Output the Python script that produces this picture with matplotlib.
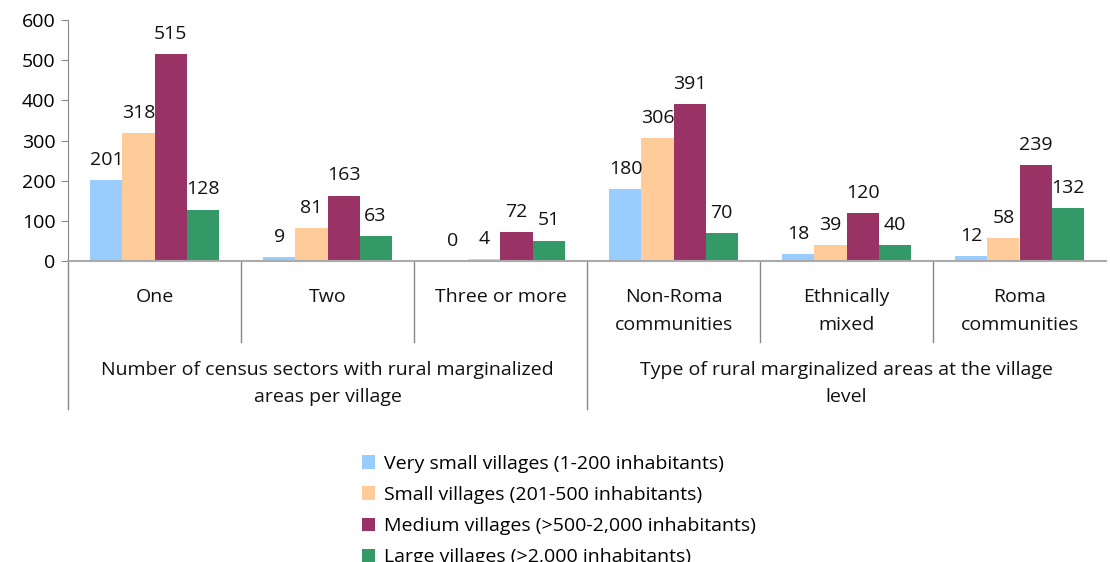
import numpy as np
import matplotlib.pyplot as plt

plt.rcParams['font.family'] = ['Open Sans', 'DejaVu Sans']

categories = ["One", "Two", "Three or more",
              "Non-Roma\ncommunities", "Ethnically\nmixed", "Roma\ncommunities"]
groups = ["Number of census sectors with rural marginalized\nareas per village",
          "Type of rural marginalized areas at the village\nlevel"]
series = ["Very small villages (1-200 inhabitants)",
          "Small villages (201-500 inhabitants)",
          "Medium villages (>500-2,000 inhabitants)",
          "Large villages (>2,000 inhabitants)"]
very_small = [201, 9, 0, 180, 18, 12]
small = [318, 81, 4, 306, 39, 58]
medium = [515, 163, 72, 391, 120, 239]
large = [128, 63, 51, 70, 40, 132]
colors = ['#99CCFF', '#FFCC99', '#993366', '#339966']

fs = 14
fig = plt.figure(figsize=(11.1, 5.62), dpi=100)
ax = fig.add_axes([68/1110, 1-261/562, 1038/1110, 241/562])

x = np.arange(len(categories))
w = 0.185
for i, (vals, c, name) in enumerate(zip([very_small, small, medium, large], colors, series)):
    pos = x + (i - 1.5) * w
    ax.bar(pos, vals, w, color=c, label=name)
    for p, v in zip(pos, vals):
        ax.annotate(str(v), (p, v), xytext=(0, 8), textcoords='offset points',
                    ha='center', va='bottom', fontsize=fs, color='#111111')

ax.set_xlim(-0.5, len(categories) - 0.5)
ax.set_ylim(0, 600)
ax.set_yticks(range(0, 601, 100))
ax.tick_params(axis='y', labelsize=fs, length=5, color='#888888', pad=4)
ax.set_xticks([])
for s in ['top', 'right']:
    ax.spines[s].set_visible(False)
ax.spines['left'].set_color('#888888')
ax.spines['bottom'].set_color('#AAAAAA')
ax.spines['bottom'].set_linewidth(1.5)

# category labels and separators
tr = ax.get_xaxis_transform()
for xi, lab in zip(x, categories):
    ax.text(xi, -0.113, lab, transform=tr, ha='center', va='top',
            fontsize=fs, linespacing=1.7, color='#111111')
for b in [0.5, 1.5, 3.5, 4.5]:
    ax.plot([b, b], [0, -0.335], transform=tr, color='#888888', lw=1, clip_on=False)
for b in [-0.5, 2.5]:
    ax.plot([b, b], [0, -0.615], transform=tr, color='#888888', lw=1, clip_on=False)
for gx, lab in zip([1, 4], groups):
    ax.text(gx, -0.415, lab, transform=tr, ha='center', va='top',
            fontsize=fs, linespacing=1.65, color='#111111')

fig.legend(loc='upper left', bbox_to_anchor=(352/1110, 1-445/562), frameon=False,
           fontsize=fs, handlelength=0.7, handleheight=0.7, handletextpad=0.45,
           labelspacing=0.68, borderpad=0)

fig.savefig('out.png', dpi=100)
